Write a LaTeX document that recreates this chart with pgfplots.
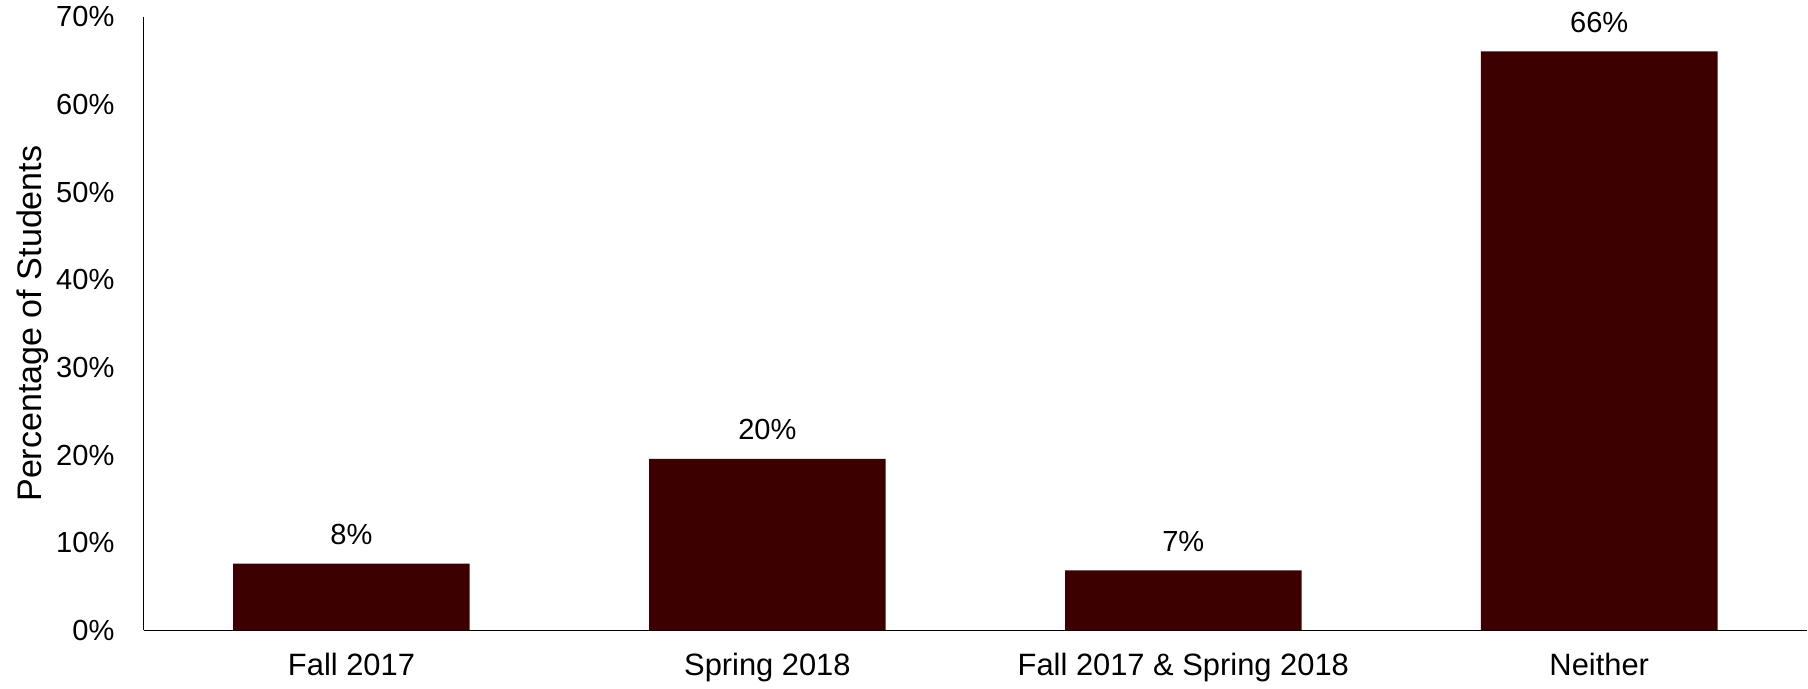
\documentclass[border=0pt]{standalone}
\usepackage{pgfplots}
\pgfplotsset{compat=1.18}
\usepackage{fontspec}
\setmainfont{Liberation Sans}
\definecolor{maroon}{RGB}{60,0,0}

\begin{document}
\begin{tikzpicture}
\begin{axis}[
  width=830pt, height=306pt, scale only axis,
  ybar, bar width=118pt,
  xmin=-0.5, xmax=3.5, ymin=0, ymax=70,
  axis x line=bottom, axis y line=left,
  axis line style={-, thick, black},
  xtick=data,
  xticklabels={Fall 2017, Spring 2018, Fall 2017 \& Spring 2018, Neither},
  ytick={0,10,...,70},
  yticklabel={\pgfmathprintnumber{\tick}\%},
  /pgf/number format/assume math mode=true,
  major tick length=0pt,
  yticklabel style={font=\fontsize{14.5}{16}\selectfont, xshift=-11pt},
  xticklabel style={font=\fontsize{15.4}{17}\selectfont, yshift=-8pt},
  ylabel={Percentage of Students},
  ylabel style={font=\fontsize{17}{19}\selectfont, yshift=-3pt},
  nodes near coords={\pgfmathprintnumber[fixed,precision=0]{\pgfplotspointmeta}\%},
  nodes near coords style={font=\fontsize{14.5}{16}\selectfont, yshift=6pt, /pgf/number format/assume math mode=true},
]
\addplot[fill=maroon, draw=none] coordinates {(0,7.62) (1,19.57) (2,6.83) (3,66.06)};
\end{axis}
\path ([xshift=-5pt]current bounding box.west);
\end{tikzpicture}
\end{document}
